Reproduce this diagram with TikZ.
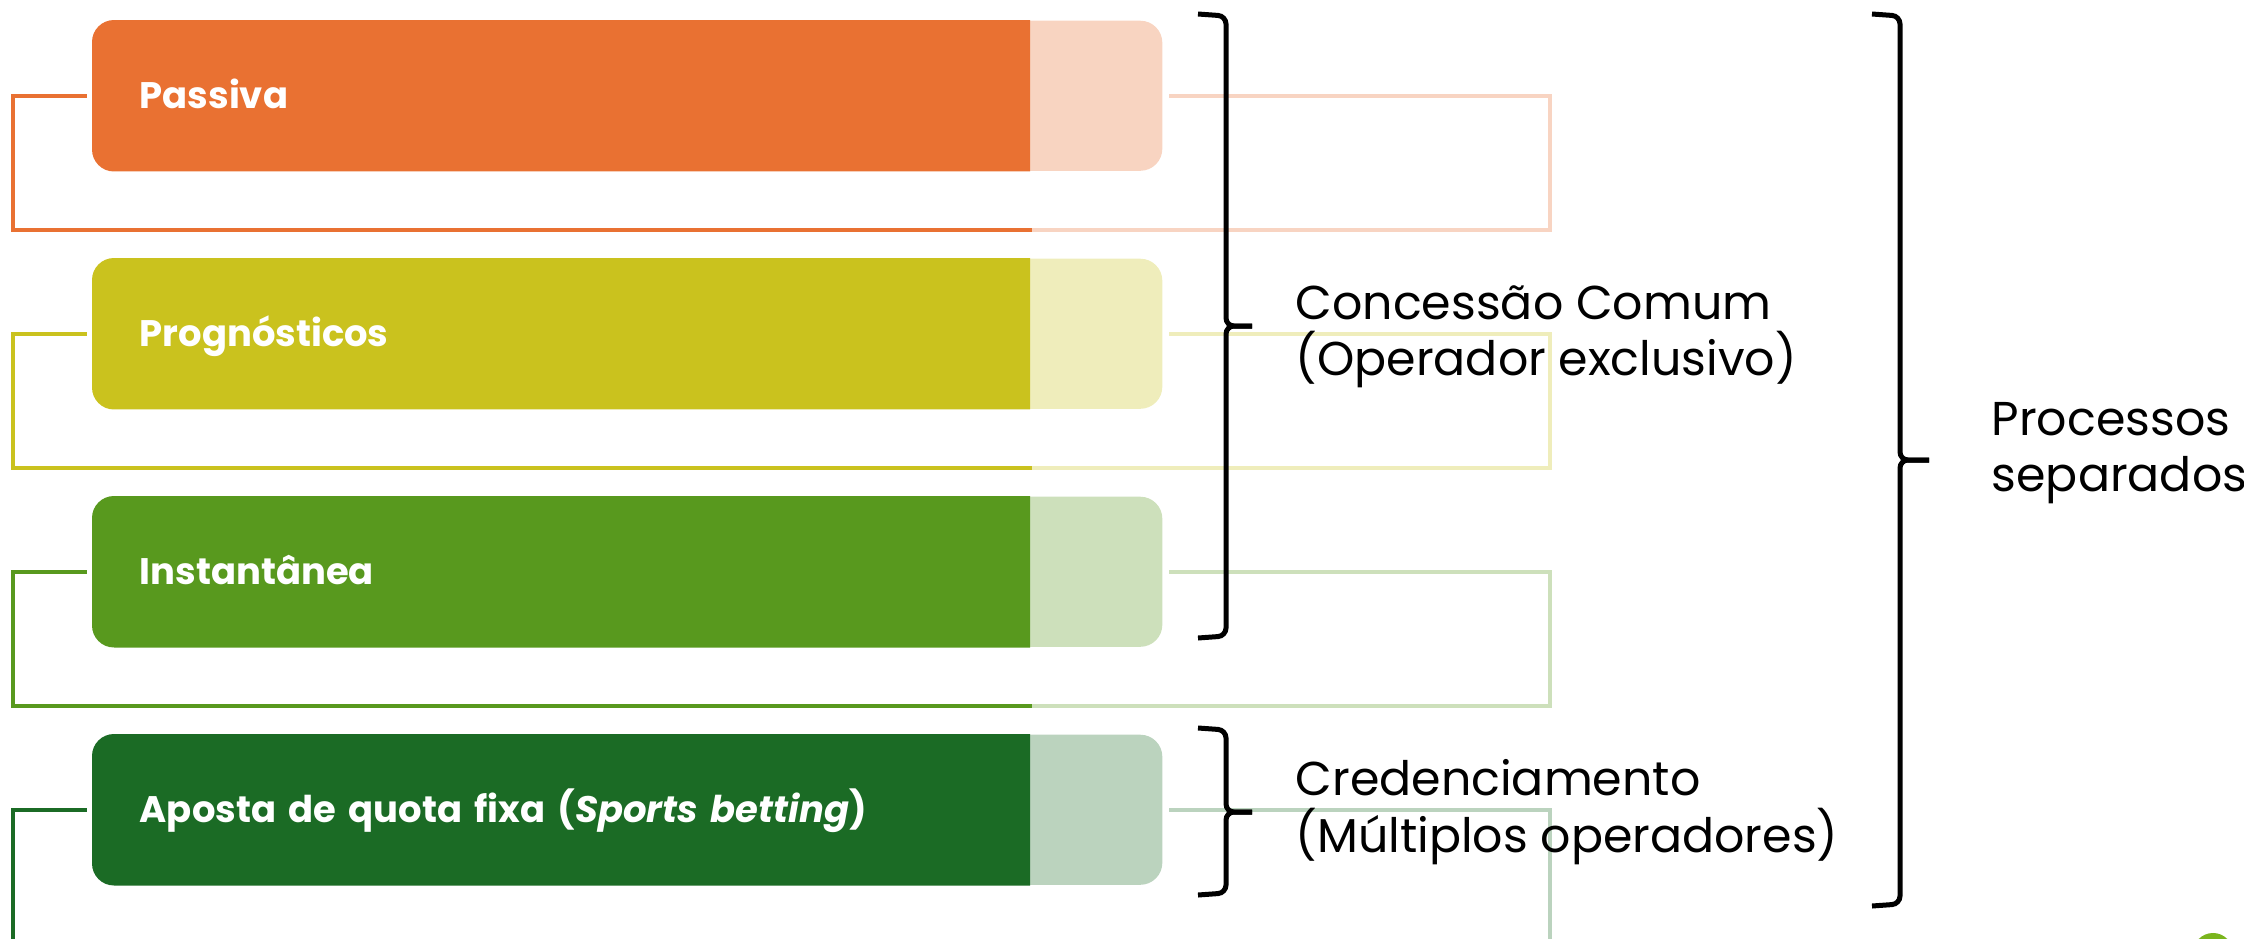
\documentclass[tikz,border=0pt]{standalone}
\usepackage{fontspec}
\setmainfont{Poppins}
\usetikzlibrary{positioning}

\definecolor{cPassiva}{HTML}{E97132}
\definecolor{cProg}{HTML}{CAC21E}
\definecolor{cInst}{HTML}{58991E}
\definecolor{cAposta}{HTML}{1B6B25}
\definecolor{cDot}{HTML}{7AB51D}

\tikzset{
  bar/.style={rectangle, anchor=north west, minimum height=1.5cm,
    inner ysep=0pt, inner xsep=0.47cm, text width=8.44cm, align=left, text=white,
    text height=0.7em, text depth=0pt, font=\fontsize{10.5}{13}\selectfont\bfseries},
  bartail/.style={rectangle, rounded corners=0.22cm, anchor=north west, minimum height=1.5cm,
    minimum width=10.69cm, inner sep=0pt},
  loopline/.style={line width=0.04cm},
  curlyline/.style={line width=0.05cm, rounded corners=0.08cm},
  sidetext/.style={anchor=west, inner sep=0pt, align=left, font=\fontsize{13.5}{16}\selectfont}
}

\begin{document}
\begin{tikzpicture}[x=0.01cm, y=-0.01cm]
\useasboundingbox (0,0) rectangle (2244,939);
\clip (0,0) rectangle (2244,939);

% bars
\node[bartail, fill=cPassiva!30] (pasT) at (92,20) {};
\fill[cPassiva] (pasT.north west) ++(938,0) [rounded corners=0.22cm] -- (pasT.north west) -- (pasT.south west) [sharp corners] -- ++(938,0) -- cycle;
\node[bar] (pas) at (92,20) {Passiva};

\node[bartail, fill=cProg!30] (proT) at (92,258) {};
\fill[cProg] (proT.north west) ++(938,0) [rounded corners=0.22cm] -- (proT.north west) -- (proT.south west) [sharp corners] -- ++(938,0) -- cycle;
\node[bar] (pro) at (92,258) {Prognósticos};

\node[bartail, fill=cInst!30] (insT) at (92,496) {};
\fill[cInst] (insT.north west) ++(938,0) [rounded corners=0.22cm] -- (insT.north west) -- (insT.south west) [sharp corners] -- ++(938,0) -- cycle;
\node[bar] (ins) at (92,496) {Instantânea};

\node[bartail, fill=cAposta!30] (apoT) at (92,734) {};
\fill[cAposta] (apoT.north west) ++(938,0) [rounded corners=0.22cm] -- (apoT.north west) -- (apoT.south west) [sharp corners] -- ++(938,0) -- cycle;
\node[bar] (apo) at (92,734) {Aposta de quota fixa (\textit{Sports betting})};

% loops round each bar
\draw[loopline, cPassiva] ([xshift=-0.05cm]pas.west) -- ++(-74,0) |- ([yshift=-0.58cm]pas.south east);
\draw[loopline, cPassiva!30] ([xshift=0.06cm]pasT.east) -- ++(381,0) |- ([yshift=-0.58cm]pas.south east);
\draw[loopline, cProg] ([xshift=-0.05cm]pro.west) -- ++(-74,0) |- ([yshift=-0.58cm]pro.south east);
\draw[loopline, cProg!30] ([xshift=0.06cm]proT.east) -- ++(381,0) |- ([yshift=-0.58cm]pro.south east);
\draw[loopline, cInst] ([xshift=-0.05cm]ins.west) -- ++(-74,0) |- ([yshift=-0.58cm]ins.south east);
\draw[loopline, cInst!30] ([xshift=0.06cm]insT.east) -- ++(381,0) |- ([yshift=-0.58cm]ins.south east);
\draw[loopline, cAposta] ([xshift=-0.05cm]apo.west) -- ++(-74,0) |- ([yshift=-0.58cm]apo.south east);
\draw[loopline, cAposta!30] ([xshift=0.06cm]apoT.east) -- ++(381,0) |- ([yshift=-0.58cm]apo.south east);

% braces
\draw[curlyline] (1198,14) -- (1226,16) -- (1226,326) -- (1252,326);
\draw[curlyline] (1198,638) -- (1226,636) -- (1226,326) -- (1252,326);
\draw[curlyline] (1198,728) -- (1226,730) -- (1226,812) -- (1252,812);
\draw[curlyline] (1198,895) -- (1226,893) -- (1226,812) -- (1252,812);
\draw[curlyline] (1872,14) -- (1900,16) -- (1900,460) -- (1929,460);
\draw[curlyline] (1872,906) -- (1900,904) -- (1900,460) -- (1929,460);

% labels
\node[sidetext] (conc) at (1295,337) {Concessão Comum\\(Operador exclusivo)};
\node[sidetext] (cred) at (1295,812) {Credenciamento\\(Múltiplos operadores)};
\node[sidetext] (proc) at (1991,453) {Processos\\separados};

% logo dot
\fill[cDot] (2213,953) circle (0.2cm);

\end{tikzpicture}
\end{document}
